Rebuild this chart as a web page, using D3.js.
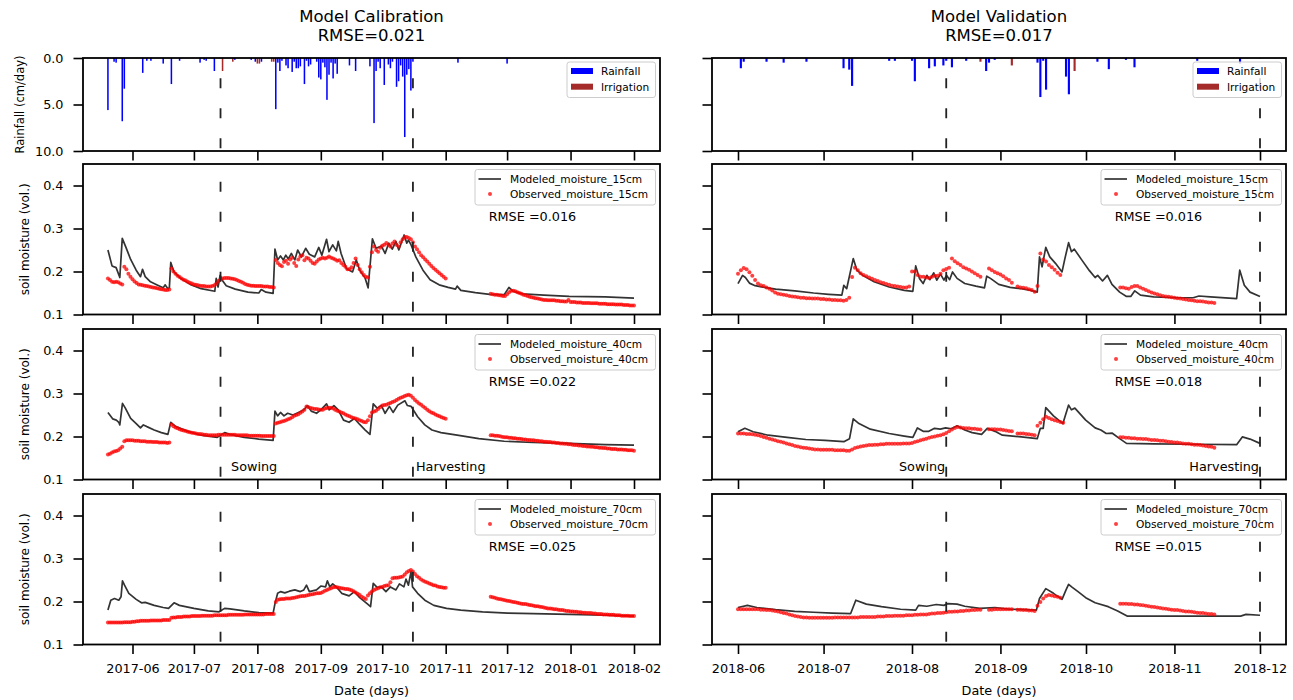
<!DOCTYPE html>
<html><head><meta charset="utf-8">
<script src="https://cdn.jsdelivr.net/npm/d3@7"></script>
<style>body{margin:0;background:#fff}svg{display:block}</style>
</head><body>
<script>
// ---------------- DATA ----------------
// Day offsets are counted from the first day of June of each season.
const calBase = "2017-06-01", calEnd = "2018-02-01";
const valBase = "2018-06-01", valEnd = "2018-12-01";
const calSowing = 43, calHarvest = 137;   // 2017-07-14, 2017-10-16
const valSowing = 73, valHarvest = 183;   // 2018-08-13, 2018-12-01
const calTitle = ["Model Calibration", "RMSE=0.021"];
const valTitle = ["Model Validation", "RMSE=0.017"];
const depths = ["15cm", "40cm", "70cm"];
const calRmse = ["0.016", "0.022", "0.025"];
const valRmse = ["0.016", "0.018", "0.015"];
const moistTicks = [0.1, 0.2, 0.3, 0.4];
const rainTicks = [0, 5, 10];

// rainfall / irrigation: [day, cm/day]
const calRain = [[-12,5.6],[-9,0.4],[-8,0.5],[-5,6.8],[-4,3.3],[5,1.6],[7,0.3],[9,0.3],[15,0.6],[19,2.8],[23,0.3],[33,0.5],[35,0.2],[36,0.3],[40,1.4],[50,0.2],[58,0.2],[60,0.4],[63,0.4],[70,5.5],[71,0.5],[72,1.4],[73,0.3],[75,0.8],[76,1.1],[78,1.5],[79,0.4],[80,1.1],[81,1.1],[82,0.9],[84,2.8],[85,0.3],[86,0.9],[87,0.7],[90,0.4],[91,2.1],[92,2.3],[93,0.5],[94,1.0],[95,4.5],[96,1.8],[97,0.5],[98,2.2],[99,0.6],[100,1.7],[106,0.8],[109,1.4],[116,0.9],[118,7.0],[119,1.4],[120,0.4],[121,1.1],[123,2.9],[125,0.7],[126,1.1],[127,0.4],[129,3.1],[130,2.5],[131,0.8],[132,2.0],[133,8.5],[134,1.8],[135,1.2],[136,3.5],[137,0.4],[159,0.5],[183,0.6]];
const calIrr = [[44,1.4],[49,0.4],[61,0.6],[62,0.6],[68,0.4],[69,0.4]];
const valRain = [[1,1.1],[2,0.4],[10,0.4],[16,0.5],[24,0.4],[37,1.1],[39,1.25],[40,3.0],[53,0.3],[55,0.3],[61,0.3],[62,2.5],[67,1.1],[69,0.9],[72,0.8],[73,0.3],[75,1.0],[80,0.3],[87,1.4],[88,0.5],[90,0.2],[105,0.5],[106,4.2],[107,0.3],[108,3.4],[115,2.0],[116,3.9],[126,0.4],[130,1.2],[136,0.2],[139,1.0],[161,0.3],[176,0.6]];
const valIrr = [[85,0.4],[96,0.8],[118,1.4]];

// modeled moisture: [day, vol]
const calMod15 = [[-12,.250],[-10,.213],[-8,.209],[-6.2,.186],[-5,.277],[-3.2,.256],[-0.9,.228],[1.8,.203],[3.9,.188],[4.9,.205],[6.2,.188],[8.8,.176],[12.3,.168],[15,.162],[15.9,.169],[17.3,.160],[18,.162],[18.7,.221],[20.3,.199],[23.8,.183],[28.2,.170],[33.5,.160],[40.2,.154],[40.9,.184],[41.8,.164],[42.8,.191],[44.1,.178],[45.8,.167],[50.2,.159],[56.4,.152],[61.7,.150],[62.9,.158],[65.2,.152],[68.7,.149],[69.6,.252],[70.9,.227],[72.3,.236],[73.7,.227],[74.9,.238],[76.1,.229],[77.6,.242],[79.3,.227],[80.7,.250],[82.5,.234],[84.6,.254],[86.4,.240],[89,.234],[91,.256],[92.5,.238],[94.8,.275],[96,.246],[97.8,.262],[99.6,.248],[100.5,.270],[101.9,.242],[104.5,.207],[107.5,.199],[109.3,.227],[111,.203],[113.7,.184],[115.1,.162],[117.2,.276],[119,.254],[121.6,.259],[123.4,.242],[125.2,.266],[126.9,.252],[128.7,.270],[130.1,.250],[132.7,.285],[134,.266],[134.8,.273],[136.1,.262],[138.4,.234],[141.9,.203],[145.4,.181],[149.8,.169],[154.2,.163],[157.8,.159],[158.6,.166],[160.4,.156],[167.5,.151],[174.5,.147],[181.6,.146],[183.9,.163],[186,.154],[190.4,.148],[201,.145],[213.3,.142],[230.9,.141],[245,.138]];
const calMod40 = [[-12,.256],[-9.7,.241],[-7.9,.238],[-6.7,.233],[-6.2,.227],[-4.9,.277],[-3.5,.266],[-0.9,.242],[1.8,.230],[3.9,.220],[5.3,.227],[7,.223],[10.6,.215],[14.1,.209],[17.3,.205],[18.7,.233],[21.2,.223],[26.4,.213],[33.5,.203],[41.4,.198],[45,.209],[47.6,.205],[54.6,.198],[61.7,.194],[68.7,.191],[69.6,.259],[70.9,.248],[72.3,.256],[74,.248],[75.8,.254],[78.4,.250],[81.1,.256],[83.7,.262],[85.5,.272],[87.3,.259],[89.9,.254],[92,.262],[94.8,.276],[96.1,.262],[98.4,.272],[100.5,.262],[103.1,.238],[105.8,.233],[108.4,.242],[111,.228],[113.7,.215],[116,.205],[117.6,.276],[119.5,.266],[121.6,.272],[123.4,.254],[125.5,.270],[127.3,.256],[129.6,.273],[133.1,.283],[134.3,.272],[136.1,.270],[139.3,.246],[142.8,.227],[146.3,.215],[150.7,.209],[158.6,.203],[169.2,.195],[181.6,.189],[195.7,.186],[213.3,.184],[230.9,.181],[245,.180]];
const calMod70 = [[-12,.180],[-10.6,.203],[-8.8,.207],[-6.7,.203],[-5.6,.211],[-4.9,.248],[-3.9,.238],[-1.8,.219],[1.8,.205],[4.4,.197],[6.2,.198],[10.6,.191],[15,.186],[17.6,.184],[20.3,.197],[22.9,.191],[30,.184],[37,.178],[42.3,.176],[45,.184],[47.6,.183],[54.6,.178],[61.7,.174],[68.7,.173],[69.6,.195],[70.9,.219],[72.3,.223],[74.4,.220],[76.7,.224],[79.3,.227],[82,.223],[83.7,.227],[85,.238],[86.4,.223],[89.9,.227],[92,.236],[94.3,.234],[95.2,.248],[96.4,.234],[97.8,.241],[99.6,.234],[102.2,.219],[105.8,.213],[108.4,.223],[111,.209],[114.6,.195],[116.3,.188],[117.6,.242],[119.5,.233],[121.6,.234],[123.8,.223],[126,.234],[128.7,.227],[130.4,.241],[132.6,.234],[133.6,.252],[134.8,.238],[136.1,.270],[136.8,.234],[139.3,.219],[142.8,.203],[147.2,.191],[153.4,.184],[160.4,.180],[171,.176],[183.3,.173],[195.7,.172],[213.3,.170],[230.9,.168],[245,.166]];
const valMod15 = [[0,.172],[1.6,.191],[2.6,.186],[4,.173],[6,.167],[9.3,.163],[13.2,.159],[19.9,.155],[26.5,.150],[31.8,.147],[36.4,.145],[37.1,.168],[38.1,.160],[40.4,.230],[41.7,.203],[43.7,.191],[47.7,.176],[53,.164],[58.3,.156],[61.3,.154],[62.3,.213],[63.6,.184],[64.9,.172],[66.2,.191],[67.3,.181],[68.6,.197],[69.7,.180],[71,.194],[72.2,.180],[73.1,.191],[74.2,.181],[75.2,.199],[76.8,.184],[79.5,.172],[83.4,.166],[86.4,.162],[87.2,.189],[88.5,.184],[91.4,.170],[95.4,.163],[99.3,.160],[102.6,.156],[104.9,.152],[105.7,.234],[106.6,.211],[107.9,.256],[109.3,.234],[111.3,.219],[113.6,.199],[114.6,.230],[115.9,.267],[116.9,.246],[117.9,.252],[120.5,.227],[123.2,.202],[125.2,.186],[126.1,.191],[127.8,.178],[129.5,.191],[131.1,.170],[133.8,.152],[136.2,.142],[137.7,.142],[139.1,.155],[141.1,.145],[145.7,.141],[153.6,.139],[159.6,.139],[161.6,.143],[165.6,.141],[174.8,.137],[175.9,.203],[177.5,.168],[179.5,.152],[183,.142]];
const valMod40 = [[0,.211],[2.4,.219],[5.3,.211],[10.6,.203],[17.2,.198],[23.8,.193],[30.5,.191],[37.1,.188],[39.1,.195],[40.4,.241],[42.4,.230],[46.4,.217],[53,.207],[58.3,.201],[61.3,.198],[62.9,.220],[64.9,.212],[66.9,.212],[68.9,.219],[70.9,.217],[72.8,.220],[74.8,.218],[76.8,.225],[79.5,.215],[82.1,.209],[85.4,.205],[87.4,.219],[90.1,.212],[92.7,.203],[99.3,.199],[104.9,.195],[106,.219],[107,.219],[107.9,.267],[110.6,.248],[113.9,.230],[115.9,.273],[116.9,.262],[118.1,.266],[121.9,.238],[125.2,.220],[127.2,.215],[129.1,.207],[131.1,.208],[133.8,.195],[136.2,.184],[145.7,.183],[158.9,.182],[174.8,.181],[176.8,.199],[179.5,.194],[183,.184]];
const valMod70 = [[0,.186],[3.3,.191],[6.6,.186],[13.2,.181],[19.9,.177],[26.5,.175],[33.1,.173],[39.5,.172],[41.3,.203],[45,.194],[50.3,.188],[57,.182],[62.3,.180],[63.3,.191],[66.2,.189],[69.5,.193],[72.2,.191],[73.5,.195],[76.8,.194],[79.5,.189],[84.8,.184],[90.1,.186],[95.4,.182],[100.7,.181],[104.6,.180],[105.7,.207],[107.9,.230],[110.6,.219],[113.6,.205],[115,.227],[115.9,.240],[117.2,.233],[119.2,.223],[121.9,.209],[125.2,.197],[129.8,.188],[133.1,.178],[136.4,.166],[145.7,.166],[158.9,.166],[176.2,.166],[178.1,.170],[183,.168]];

// observed moisture: daily values, first value at calObsStart / valObsStart, null = no reading
const calObsStart = -12, valObsStart = 0;
const calObs15 = [.184,.180,.176,.175,.176,.175,.172,.170,
 .211,.205,.195,.188,.182,.177,.173,.170,.169,.168,.167,.166,.165,.164,.163,.162,.161,.160,.159,.158,.157,.157,.158,
 .207,.200,.195,.190,.187,.184,.181,.179,.176,.174,.172,.170,.169,.168,.167,.166,.166,.165,.165,.165,.166,.168,.172,.178,.182,.184,.185,.185,.185,.184,.183,.182,.180,.178,.176,.174,.171,.169,.168,.167,.167,.166,.166,.166,.166,.165,.165,.165,.164,.164,.163,
 .227,.220,.215,.212,.222,.225,.218,.228,.232,.220,.213,.228,.235,.238,.226,.232,.230,.225,.220,.218,.223,.228,.230,.232,.230,.232,.235,.232,.230,.228,.225,.226,.220,.215,.211,.205,.205,.210,.220,.230,.215,.205,.198,.192,.188,.186,.211,.245,.258,.250,.246,.255,.260,.262,.266,.262,.258,.265,.270,.262,.258,.268,.275,.280,.280,.278,.275,.268,.258,.252,.245,.238,.233,.228,.223,.218,.213,.208,.204,.200,.196,.192,.188,.184,
 null,null,null,null,null,null,null,null,null,null,null,null,null,null,null,null,null,null,null,null,null,
 .148,.147,.146,.146,.145,.144,.143,.143,.147,.152,.155,.155,.154,.152,.150,.148,.146,.145,.143,.141,.140,.139,.138,.137,.136,.135,.134,.134,.133,.133,.133,.133,.132,.132,.131,.131,.130,.130,.134,.129,.129,.129,.128,.128,.128,.127,.127,.127,.127,.126,.126,.126,.126,.125,.125,.125,.125,.124,.124,.124,.124,.123,.123,.123,.123,.122,.122,.122,.121,.121,.121];
const calObs40 = [.158,.160,.163,.165,.166,.168,.172,.176,
 .189,.191,.191,.191,.191,.190,.190,.190,.189,.189,.189,.188,.188,.188,.187,.187,.187,.186,.186,.186,.186,.185,.186,
 .228,.224,.221,.219,.217,.215,.214,.213,.211,.210,.209,.208,.207,.206,.206,.205,.204,.204,.203,.203,.203,.203,.203,.204,.204,.204,.204,.204,.204,.204,.204,.204,.203,.203,.203,.203,.203,.203,.202,.202,.202,.202,.202,.202,.201,.201,.201,.201,.201,.201,.201,
 .230,.232,.233,.235,.236,.238,.240,.242,.245,.248,.250,.252,.255,.258,.262,.270,.268,.266,.265,.264,.264,.263,.262,.262,.265,.266,.267,.267,.265,.262,.260,.258,.256,.254,.251,.249,.247,.245,.243,.242,.240,.238,.236,.234,.233,.238,.247,.256,.258,.260,.264,.268,.272,.273,.274,.276,.278,.280,.282,.285,.288,.290,.292,.294,.296,.297,.295,.290,.285,.281,.277,.274,.270,.266,.262,.259,.256,.254,.251,.249,.247,.245,.243,.241,
 null,null,null,null,null,null,null,null,null,null,null,null,null,null,null,null,null,null,null,null,null,
 .203,.203,.202,.202,.201,.200,.199,.198,.198,.197,.197,.196,.196,.195,.195,.194,.193,.193,.192,.192,.191,.191,.190,.190,.189,.189,.188,.188,.187,.187,.186,.186,.185,.185,.184,.184,.183,.183,.182,.182,.181,.180,.180,.179,.179,.178,.178,.177,.177,.176,.176,.175,.175,.174,.174,.173,.173,.172,.172,.171,.171,.171,.170,.170,.170,.169,.169,.168,.168,.168,.167];
const calObs70 = [.151,.151,.151,.151,.151,.151,.151,.151,.152,.152,.152,.152,
 .153,.153,.154,.154,.155,.155,.155,.155,.155,.156,.156,.156,.156,.156,.156,.157,.157,.157,.157,
 .162,.163,.163,.164,.164,.164,.165,.165,.165,.165,.166,.166,.166,.166,.166,.167,.167,.167,.167,.167,.167,.168,.168,.168,.168,.168,.168,.168,.169,.169,.169,.169,.169,.169,.169,.169,.170,.170,.170,.170,.170,.170,.170,.170,.170,.170,.171,.171,.171,.171,.171,
 .199,.204,.205,.206,.206,.207,.207,.207,.208,.209,.210,.211,.212,.213,.213,.214,.215,.216,.217,.218,.219,.219,.220,.222,.225,.227,.229,.231,.233,.234,.233,.232,.231,.230,.229,.229,.228,.226,.224,.221,.218,.215,.211,.208,.206,.214,.219,.223,.227,.229,.231,.233,.234,.236,.237,.238,.245,.254,.255,.255,.256,.257,.258,.263,.268,.271,.273,.270,.264,.259,.255,.251,.248,.246,.244,.242,.240,.238,.237,.235,.234,.233,.232,.232,
 null,null,null,null,null,null,null,null,null,null,null,null,null,null,null,null,null,null,null,null,null,
 .211,.210,.209,.207,.206,.205,.204,.203,.202,.201,.200,.199,.198,.197,.196,.195,.194,.194,.193,.192,.191,.190,.189,.189,.188,.187,.186,.185,.184,.184,.183,.182,.182,.181,.180,.180,.179,.178,.178,.177,.177,.176,.176,.175,.175,.174,.174,.173,.173,.173,.172,.172,.171,.171,.171,.170,.170,.170,.169,.169,.169,.168,.168,.168,.167,.167,.167,.167,.166,.166,.166];
const valObs15 = [.195,.203,.208,.205,.198,.190,.180,.172,.168,.166,
 .163,.160,.156,.151,.148,.147,.146,.145,.143,.142,
 .141,.140,.139,.139,.138,.138,.137,.137,.137,.136,
 .136,.135,.135,.134,.134,.133,.133,.132,.134,.139,
 .187,.209,.203,.196,.192,.189,.186,.183,.180,.178,
 .175,.173,.171,.169,.167,.166,.165,.164,.163,.163,
 .165,.200,.200,.192,.188,.188,.186,.185,.188,.190,
 .190,.195,.203,.206,.209,.230,.224,.219,.215,.210,
 .207,.204,.200,.196,.192,.188,null,null,.207,.203,
 .199,.196,.193,.189,.184,.180,.174,null,.165,.163,
 .162,.161,.159,.157,.153,.166,.242,.228,.223,.215,
 .210,.204,.197,.192,null,null,null,null,null,null,
 null,null,null,null,null,null,null,null,null,null,
 null,null,null,null,.163,.163,.161,.160,.164,.166,
 .166,.163,.160,.157,.154,.151,.149,.147,.145,.143,
 .142,.141,.140,.139,.138,.137,.136,.135,.134,.133,
 .132,.131,.131,.130,.129,.128,.128,.127];
const valObs40 = [.207,.207,.207,.206,.206,.205,.204,.203,.201,.199,
 .197,.195,.193,.191,.189,.188,.186,.184,.182,.180,
 .178,.177,.175,.174,.173,.172,.171,.170,.170,.169,
 .169,.169,.169,.169,.168,.168,.168,.168,.167,.167,
 .170,.173,.175,.177,.178,.179,.180,.180,.181,.181,
 .182,.182,.183,.183,.183,.183,.183,.183,.184,.184,
 .184,.185,.187,.189,.191,.193,.195,.197,.199,.200,
 .202,.203,.205,.208,.212,.216,.220,.222,.221,.220,
 .219,.219,.218,.218,.217,.216,null,null,.217,.217,
 .217,.216,.216,.215,.214,.213,.212,null,.207,.207,
 .207,.206,.205,.204,.203,.225,.232,.240,.246,.243,
 .240,.238,.236,.234,.232,null,null,null,null,null,
 null,null,null,null,null,null,null,null,null,null,
 null,null,null,null,.198,.198,.197,.197,.196,.196,
 .195,.195,.194,.194,.193,.192,.192,.191,.190,.190,
 .189,.188,.187,.186,.186,.185,.184,.183,.183,.182,
 .181,.181,.180,.179,.178,.177,.176,.174];
const valObs70 = [.182,.182,.182,.182,.182,.182,.182,.182,.181,.181,
 .180,.180,.179,.178,.177,.175,.173,.172,.170,.168,
 .166,.165,.164,.163,.163,.162,.162,.162,.162,.162,
 .162,.162,.162,.162,.163,.163,.163,.163,.163,.163,
 .163,.163,.163,.164,.164,.164,.164,.164,.164,.165,
 .165,.165,.166,.166,.166,.167,.167,.167,.167,.168,
 .168,.168,.169,.169,.170,.170,.170,.171,.172,.172,
 .173,.173,.174,.175,.176,.176,.177,.177,.178,.178,
 .179,.179,.180,.180,.181,.181,null,null,.181,.181,
 .182,.182,.182,.182,.182,.182,.182,null,.181,.181,
 .180,.180,.179,.179,.178,.190,.199,.207,.213,.215,
 .214,.212,.211,.209,null,null,null,null,null,null,
 null,null,null,null,null,null,null,null,null,null,
 null,null,null,null,.195,.195,.195,.194,.194,.193,
 .193,.192,.191,.190,.189,.188,.187,.186,.185,.184,
 .183,.182,.181,.180,.180,.179,.178,.177,.177,.176,
 .175,.174,.173,.173,.172,.171,.171,.170];

// ---------------- DRAWING ----------------
const FONT = "'DejaVu Sans', Verdana, sans-serif";
const parse = d3.timeParse("%Y-%m-%d");
const DAY = 864e5;
const svg = d3.select("body").append("svg").attr("width", 1293).attr("height", 700)
  .style("font-family", FONT);

const cols = [
  {title: calTitle, x0: 83, x1: 660, r0: 132.5, r1: 634, base: parse(calBase), end: parse(calEnd),
   rain: calRain, irr: calIrr, sow: calSowing, harv: calHarvest, obsStart: calObsStart,
   mod: [calMod15, calMod40, calMod70], obs: [calObs15, calObs40, calObs70], rmse: calRmse, left: true},
  {title: valTitle, x0: 712, x1: 1286, r0: 738, r1: 1260, base: parse(valBase), end: parse(valEnd),
   rain: valRain, irr: valIrr, sow: valSowing, harv: valHarvest, obsStart: valObsStart,
   mod: [valMod15, valMod40, valMod70], obs: [valObs15, valObs40, valObs70], rmse: valRmse, left: false}
];
const rainRow = [58, 151];
const moistRows = [[164, 314.5], [329, 479.5], [494, 644.5]];

function styleAxis(g) {
  g.select(".domain").remove();
  g.selectAll(".tick line").attr("stroke", "#000").attr("stroke-width", 1.6);
  g.selectAll(".tick text").attr("font-size", 12.8).attr("font-family", FONT).attr("fill", "#000");
}

function panelFrame(col, y0, y1, x, bottomLabels) {
  const g = svg.append("g");
  [col.sow, col.harv].forEach(d => {
    const xx = x(new Date(+col.base + d * DAY));
    g.append("line").attr("x1", xx).attr("x2", xx).attr("y1", y1).attr("y2", y0)
      .attr("stroke", "#222").attr("stroke-width", 1.8)
      .attr("stroke-dasharray", "10,20").attr("stroke-dashoffset", 27.2);
  });
  g.append("rect").attr("x", col.x0).attr("y", y0).attr("width", col.x1 - col.x0).attr("height", y1 - y0)
    .attr("fill", "none").attr("stroke", "#000").attr("stroke-width", 1.8);
  const xa = d3.axisBottom(x).ticks(d3.timeMonth.every(1)).tickSize(9.5).tickPadding(10)
    .tickFormat(bottomLabels ? d3.timeFormat("%Y-%m") : "");
  g.append("g").attr("transform", `translate(0,${y1})`).call(xa).call(styleAxis);
  return g;
}

cols.forEach(col => {
  const x = d3.scaleTime().domain([col.base, col.end]).range([col.r0, col.r1]);
  const dt = d => new Date(+col.base + d * DAY);
  const cx = (col.x0 + col.x1) / 2;

  svg.append("text").attr("x", cx).attr("y", 22).attr("text-anchor", "middle")
    .attr("font-size", 16.5).text(col.title[0]);
  svg.append("text").attr("x", cx).attr("y", 41).attr("text-anchor", "middle")
    .attr("font-size", 16.5).text(col.title[1]);

  // ---- rainfall panel ----
  const yr = d3.scaleLinear().domain([0, 10]).range(rainRow);
  const bw = x(dt(0.75)) - x(dt(0));
  const gr = svg.append("g");
  gr.selectAll("rect.rain").data(col.rain).join("rect")
    .attr("x", d => x(dt(d[0])) - bw / 2).attr("width", bw)
    .attr("y", yr(0)).attr("height", d => yr(d[1]) - yr(0)).attr("fill", "#0000ff");
  gr.selectAll("rect.irr").data(col.irr).join("rect")
    .attr("x", d => x(dt(d[0])) - bw / 2).attr("width", bw)
    .attr("y", yr(0)).attr("height", d => yr(d[1]) - yr(0)).attr("fill", "#a52a2a");
  panelFrame(col, rainRow[0], rainRow[1], x, false);
  const yra = d3.axisLeft(yr).tickValues(rainTicks).tickSize(9.5).tickPadding(10)
    .tickFormat(col.left ? d3.format(".1f") : "");
  svg.append("g").attr("transform", `translate(${col.x0},0)`).call(yra).call(styleAxis);
  {
    const bx = col.x1 - 93, by = rainRow[0] + 4;
    const lg = svg.append("g");
    lg.append("rect").attr("x", bx).attr("y", by).attr("width", 88.5).attr("height", 35.5).attr("rx", 2.5)
      .attr("fill", "#fff").attr("fill-opacity", 0.8).attr("stroke", "#cccccc").attr("stroke-width", 1);
    [["Rainfall", "#0000ff", 9], ["Irrigation", "#a52a2a", 24.7]].forEach(([t, c, dy]) => {
      lg.append("rect").attr("x", bx + 4).attr("y", by + dy - 3).attr("width", 22).attr("height", 6).attr("fill", c);
      lg.append("text").attr("x", bx + 34).attr("y", by + dy).attr("dy", "0.36em")
        .attr("font-size", 10.6).text(t);
    });
  }
  if (col.left) {
    svg.append("text").attr("transform", `translate(20,${(rainRow[0] + rainRow[1]) / 2}) rotate(-90)`)
      .attr("text-anchor", "middle").attr("dy", "0.35em").attr("font-size", 11.5).text("Rainfall (cm/day)");
  }

  // ---- moisture panels ----
  moistRows.forEach((row, i) => {
    const [y0, y1] = row;
    const y = d3.scaleLinear().domain([0.1, 0.45]).range([y1, y0]);
    const g = svg.append("g");
    const line = d3.line().x(d => x(dt(d[0]))).y(d => y(d[1]));
    g.append("path").datum(col.mod[i]).attr("d", line).attr("fill", "none")
      .attr("stroke", "#333").attr("stroke-width", 1.7).attr("stroke-linejoin", "round");
    const obs = col.obs[i].map((v, k) => [col.obsStart + k, v]).filter(d => d[1] != null);
    g.selectAll("circle").data(obs).join("circle")
      .attr("cx", d => x(dt(d[0]))).attr("cy", d => y(d[1])).attr("r", 2)
      .attr("fill", "#ff0000").attr("fill-opacity", 0.75);

    panelFrame(col, y0, y1, x, i === 2);
    const ya = d3.axisLeft(y).tickValues(moistTicks).tickSize(9.5).tickPadding(10)
      .tickFormat(col.left ? d3.format(".1f") : "");
    svg.append("g").attr("transform", `translate(${col.x0},0)`).call(ya).call(styleAxis);

    const bx = col.x1 - 185, by = y0 + 5.5;
    const lg = svg.append("g");
    lg.append("rect").attr("x", bx).attr("y", by).attr("width", 180.5).attr("height", 35.5).attr("rx", 2.5)
      .attr("fill", "#fff").attr("fill-opacity", 0.8).attr("stroke", "#cccccc").attr("stroke-width", 1);
    lg.append("line").attr("x1", bx + 3.5).attr("x2", bx + 26).attr("y1", by + 9.5).attr("y2", by + 9.5)
      .attr("stroke", "#333").attr("stroke-width", 1.7);
    lg.append("text").attr("x", bx + 35).attr("y", by + 9.5).attr("dy", "0.36em").attr("font-size", 10.6)
      .text("Modeled_moisture_" + depths[i]);
    lg.append("circle").attr("cx", bx + 15).attr("cy", by + 24.5).attr("r", 2)
      .attr("fill", "#ff0000").attr("fill-opacity", 0.75);
    lg.append("text").attr("x", bx + 35).attr("y", by + 24.5).attr("dy", "0.36em").attr("font-size", 10.6)
      .text("Observed_moisture_" + depths[i]);
    svg.append("text").attr("x", bx + 13.7).attr("y", y0 + 52).attr("dy", "0.36em").attr("font-size", 12.8)
      .text("RMSE =" + col.rmse[i]);

    if (col.left) {
      svg.append("text").attr("transform", `translate(25,${(y0 + y1) / 2}) rotate(-90)`)
        .attr("text-anchor", "middle").attr("dy", "0.35em").attr("font-size", 12).text("soil moisture (vol.)");
    }
    if (i === 1) {
      const ty = y(0.12);
      const sx = x(dt(col.sow)), hx = x(dt(col.harv));
      if (col.left) {
        svg.append("text").attr("x", sx + 10.5).attr("y", ty).attr("font-size", 12.8).text("Sowing");
        svg.append("text").attr("x", hx + 3).attr("y", ty).attr("font-size", 12.8).text("Harvesting");
      } else {
        svg.append("text").attr("x", sx - 1).attr("y", ty).attr("text-anchor", "end").attr("font-size", 12.8).text("Sowing");
        svg.append("text").attr("x", hx - 1).attr("y", ty).attr("text-anchor", "end").attr("font-size", 12.8).text("Harvesting");
      }
    }
  });

  svg.append("text").attr("x", cx).attr("y", 695).attr("text-anchor", "middle")
    .attr("font-size", 12.8).text("Date (days)");
});
</script>
</body></html>
